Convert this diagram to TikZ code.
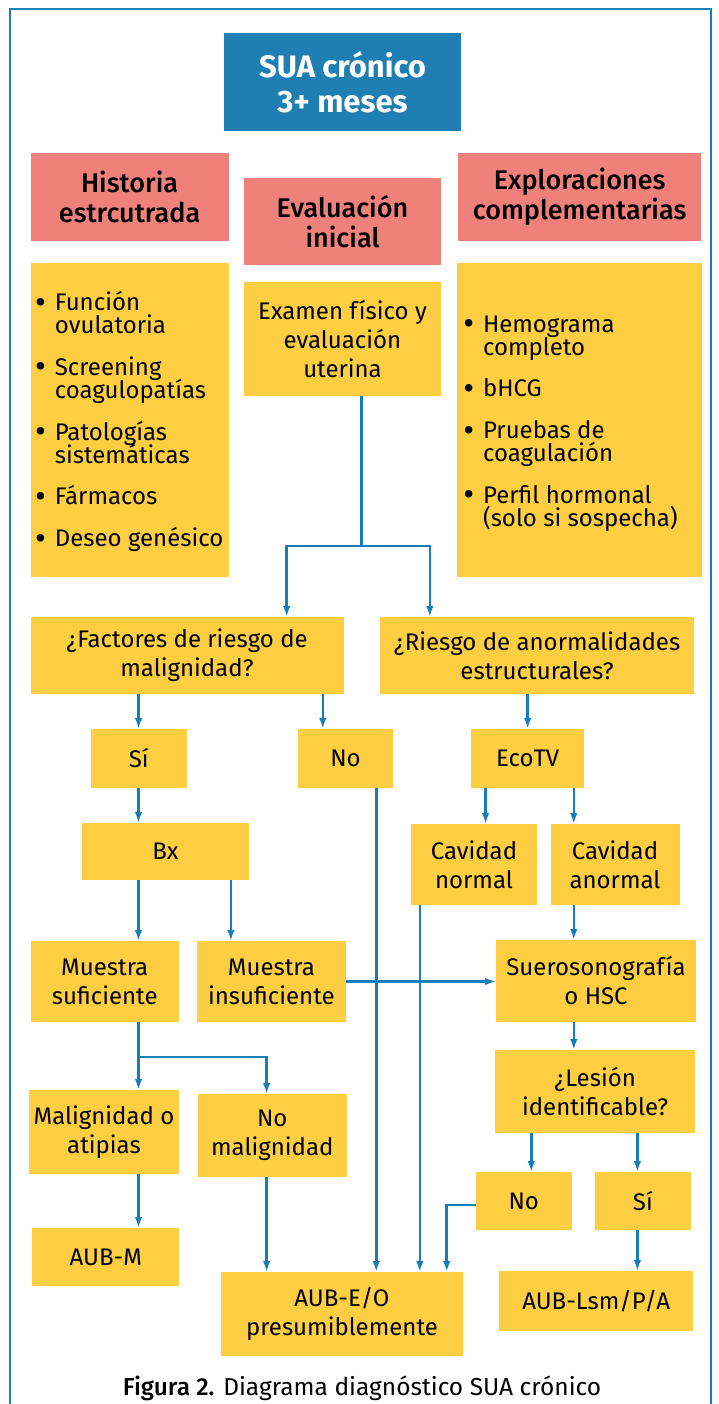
\documentclass[tikz,border=0pt]{standalone}
\usepackage{fontspec}
\setmainfont{Fira Sans}
\IfFontExistsTF{Fira Sans Medium}{\newfontfamily\medfont{Fira Sans Medium}}{\newfontfamily\medfont{Fira Sans}[FakeBold=1.2]}
\usetikzlibrary{arrows.meta,calc}
\definecolor{mblue}{RGB}{31,127,178}
\definecolor{lblue}{RGB}{24,126,186}
\definecolor{mpink}{RGB}{240,128,122}
\definecolor{myel}{RGB}{253,206,66}
\newcommand{\bul}[1]{\mbox{\makebox[19pt][l]{\raisebox{-0.5pt}{\bfseries\fontsize{27}{22}\selectfont•}}#1}}
\newcommand{\ind}[1]{\mbox{\hspace*{19pt}#1}}
\newcommand{\tightlines}{\fontsize{24}{23}\selectfont\lineskiplimit=-30pt\relax\lineskip=0pt\relax}
\tikzset{
  base/.style={inner sep=0pt, outer sep=0pt, align=center, font=\fontsize{24}{29}\selectfont},
  ybox/.style={base, fill=myel},
  pbox/.style={base, fill=mpink, font=\medfont\fontsize{27}{30}\selectfont},
  ltext/.style={inner sep=0pt, outer sep=0pt, align=left, font=\tightlines},
  ln/.style={draw=lblue, line width=2.6pt},
  arr/.style={ln, -{Latex[length=11pt,width=7.5pt]}},
}
\begin{document}
\begin{tikzpicture}[x=1pt,y=-1pt]
\useasboundingbox (0,0) rectangle (718,1404);
\draw[lblue, line width=2pt] (10,1404) -- (10,9) -- (711,9) -- (711,1404);
% header
\node[base, fill=mblue, text=white, font=\bfseries\fontsize{31}{35}\selectfont, minimum width=237, minimum height=98] (sua) at (342.5,82) {SUA crónico\\3+ meses};
\node[pbox, minimum width=198, minimum height=88] (hist) at (129.6,197) {Historia\\estrcutrada};
\node[pbox, minimum width=197.5, minimum height=87] (eval) at (342.5,221.5) {Evaluación\\inicial};
\node[pbox, minimum width=243, minimum height=88] (expl) at (579.6,197) {Exploraciones\\complementarias};
% lists
\node[ybox, minimum width=198, minimum height=314] (hlist) at (129.6,420) {};
\node[ltext, anchor=center] (htext) at (129.6,421.5) {\bul{Función}\\\ind{ovulatoria}\\[18.75pt]\bul{Screening}\\\ind{coagulopatías}\\[18.75pt]\bul{Patologías}\\\ind{sistemáticas}\\[18.75pt]\bul{Fármacos}\\[18.75pt]\bul{Deseo genésico}};
\node[ybox, minimum width=197.5, minimum height=114] (exam) at (342.5,339) {Examen físico y\\evaluación\\uterina};
\node[ybox, minimum width=245, minimum height=314] (elist) at (579.5,420) {};
\node[ltext, anchor=west] (etext) at (464,423.5) {\bul{Hemograma}\\\ind{completo}\\[18.75pt]\bul{bHCG}\\[18.75pt]\bul{Pruebas de}\\\ind{coagulación}\\[18.75pt]\bul{Perfil hormonal}\\\ind{(solo si sospecha)}};
% questions
\node[ybox, minimum width=313, minimum height=77] (fact) at (187,655.5) {¿Factores de riesgo de\\malignidad?};
\node[ybox, minimum width=314, minimum height=77] (riesgo) at (537,655.5) {¿Riesgo de anormalidades\\estructurales?};
\node[ybox, minimum width=95.6, minimum height=59] (si1) at (138.8,758.5) {Sí};
\node[ybox, minimum width=95.5, minimum height=59] (no1) at (345.5,758.5) {No};
\node[ybox, minimum width=113.4, minimum height=59] (eco) at (527.7,758.5) {EcoTV};
\node[ybox, minimum width=166.4, minimum height=57] (bx) at (165.5,851.5) {Bx};
\node[ybox, minimum width=125.8, minimum height=81] (cn) at (474,864.5) {Cavidad\\normal};
\node[ybox, minimum width=129, minimum height=81] (ca) at (615,864.5) {Cavidad\\anormal};
\node[ybox, minimum width=148.2, minimum height=81] (ms) at (104.7,981.5) {Muestra\\suficiente};
\node[ybox, minimum width=149.5, minimum height=81] (mi) at (271.4,981.5) {Muestra\\insuficiente};
\node[ybox, minimum width=199.8, minimum height=82] (suero) at (596,981) {Suerosonografía\\o HSC};
\node[ybox, minimum width=149.5, minimum height=84] (mal) at (104,1132) {Malignidad o\\atipias};
\node[ybox, minimum width=148.6, minimum height=83] (nomal) at (272.3,1135.5) {No\\malignidad};
\node[ybox, minimum width=199.8, minimum height=83] (lesion) at (595.1,1091.5) {¿Lesión\\identificable?};
\node[ybox, minimum width=95.6, minimum height=58] (no2) at (523.8,1201) {No};
\node[ybox, minimum width=96, minimum height=58] (si2) at (642.9,1201) {Sí};
\node[ybox, minimum width=146.7, minimum height=58] (aubm) at (105.8,1257) {AUB-M};
\node[ybox, minimum width=242.4, minimum height=84] (aubeo) at (342,1314) {AUB-E/O\\presumiblemente};
\node[ybox, minimum width=193.9, minimum height=60] (aublsm) at (596.2,1301) {AUB-Lsm/P/A};
\node[base, font=\fontsize{24.5}{29}\selectfont] (cap) at (362,1388) {{\medfont Figura 2.} Diagrama diagnóstico SUA crónico};
% x positions of connectors
\coordinate (j1) at (361.2,546);
\coordinate (jl) at (286.7,546);
\coordinate (jr) at (429.8,546);
\coordinate (xa) at (138.5,0);
\coordinate (xno) at (322.8,0);
\coordinate (xcn) at (485.6,0);
\coordinate (xca) at (573.8,0);
\coordinate (xmi) at (230.9,0);
\coordinate (xn1) at (376.3,0);
\coordinate (xcl) at (419.8,0);
\coordinate (j2l) at (138.5,1057);
\coordinate (j2) at (266.6,1057);
\coordinate (xl1) at (531.3,0);
\coordinate (xl2) at (637.4,0);
\coordinate (xn2) at (446.7,0);
\coordinate (yn2) at (0,1205);
% connectors
\draw[ln] (exam.south -| j1) -- (j1);
\draw[arr] (j1) -- (jl) -- (fact.north -| jl);
\draw[arr] (j1) -- (jr) -- (riesgo.north -| jr);
\draw[arr] (fact.south -| xa) -- (si1.north -| xa);
\draw[arr] (fact.south -| xno) -- (no1.north -| xno);
\draw[arr] (riesgo.south -| eco) -- (eco.north);
\draw[arr] (si1.south -| xa) -- (bx.north -| xa);
\draw[arr] (eco.south -| xcn) -- (cn.north -| xcn);
\draw[arr] (eco.south -| xca) -- (ca.north -| xca);
\draw[arr] (bx.south -| xa) -- (ms.north -| xa);
\draw[arr] (bx.south -| xmi) -- (mi.north -| xmi);
\draw[arr] (no1.south -| xn1) -- (aubeo.north -| xn1);
\draw[arr] (cn.south -| xcl) -- (aubeo.north -| xcl);
\draw[arr] (ca.south -| xca) -- (suero.north -| xca);
\draw[arr] (mi.east) -- (suero.west |- mi.east);
\draw[arr] (ms.south -| xa) -- (mal.north -| xa);
\draw[arr] (j2l) -- (j2) -- (nomal.north -| j2);
\draw[arr] (mal.south -| xa) -- (aubm.north -| xa);
\draw[arr] (nomal.south -| j2) -- (aubeo.north -| j2);
\draw[arr] (suero.south -| xca) -- (lesion.north -| xca);
\draw[arr] (lesion.south -| xl1) -- (no2.north -| xl1);
\draw[arr] (lesion.south -| xl2) -- (si2.north -| xl2);
\draw[arr] (no2.west |- yn2) -| (aubeo.north -| xn2);
\draw[arr] (si2.south -| xl2) -- (aublsm.north -| xl2);
\end{tikzpicture}
\end{document}
